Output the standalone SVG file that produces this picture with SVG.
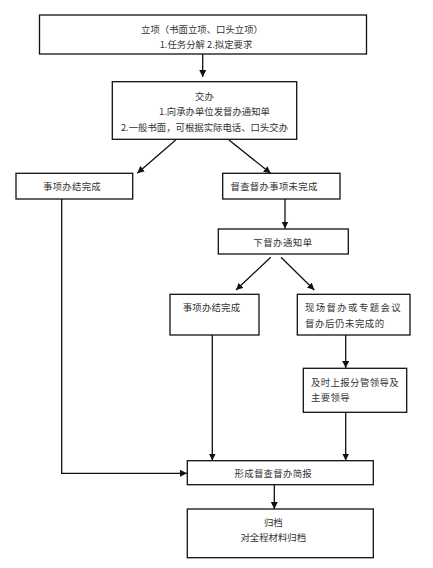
<svg xmlns="http://www.w3.org/2000/svg" width="433" height="568" viewBox="0 0 433 568">
<style>
.box{fill:#fff;stroke:#111;stroke-width:1.3}
.t{font-family:"Noto Sans CJK SC","Noto Sans",sans-serif;font-size:9.4px;fill:#333;text-anchor:middle;dominant-baseline:central}
.s{text-anchor:start}
.c{fill:none;stroke:#111;stroke-width:1.3}
</style>
<defs>
<marker id="ah" markerUnits="userSpaceOnUse" markerWidth="8" markerHeight="8" refX="7" refY="3.5" orient="auto">
<path d="M0,0 L7,3.5 L0,7 Z" fill="#111"/>
</marker>
</defs>
<rect width="433" height="568" fill="#fff"/>
<g id="connectors">
<line class="c" x1="202.7" y1="54" x2="202.7" y2="77" marker-end="url(#ah)"/>
<line class="c" x1="175.7" y1="140" x2="137.3" y2="173.3" marker-end="url(#ah)"/>
<line class="c" x1="229" y1="140" x2="270.7" y2="173.3" marker-end="url(#ah)"/>
<line class="c" x1="285" y1="199" x2="285" y2="228.5" marker-end="url(#ah)"/>
<line class="c" x1="270.7" y1="257.3" x2="236" y2="290" marker-end="url(#ah)"/>
<line class="c" x1="281" y1="257.3" x2="314.3" y2="290" marker-end="url(#ah)"/>
<polyline class="c" points="61.7,199 61.7,473.3 187,473.3" marker-end="url(#ah)"/>
<line class="c" x1="212.3" y1="335" x2="212.3" y2="460.5" marker-end="url(#ah)"/>
<line class="c" x1="345.7" y1="335" x2="345.7" y2="368" marker-end="url(#ah)"/>
<line class="c" x1="345.7" y1="412.3" x2="345.7" y2="460.5" marker-end="url(#ah)"/>
<line class="c" x1="274.3" y1="484.7" x2="274.3" y2="509" marker-end="url(#ah)"/>
</g>
<g id="n1">
<rect class="box" x="39.5" y="15" width="327" height="39"/>
<text class="t" x="202" y="28.5">立项（书面立项、口头立项）</text>
<text class="t" x="206" y="44">1.任务分解  2.拟定要求</text>
</g>
<g id="n2">
<rect class="box" x="112.3" y="81.7" width="184.4" height="57.6"/>
<text class="t" x="204.5" y="95.5">交办</text>
<text class="t" x="214.5" y="110.5">1.向承办单位发督办通知单</text>
<text class="t" x="204.5" y="127">2.一般书面，可根据实际电话、口头交办</text>
</g>
<g id="n3">
<rect class="box" x="16" y="173.3" width="116.7" height="25.7"/>
<text class="t" x="72" y="186" letter-spacing="0.3">事项办结完成</text>
</g>
<g id="n4">
<rect class="box" x="222.7" y="173.3" width="117.3" height="25.7"/>
<text class="t s" x="230.5" y="186" letter-spacing="0.3">督查督办事项未完成</text>
</g>
<g id="n5">
<rect class="box" x="218.3" y="229" width="130" height="25"/>
<text class="t" x="283" y="241.5" letter-spacing="0.5">下督办通知单</text>
</g>
<g id="n6">
<rect class="box" x="170" y="294.3" width="89" height="40.7"/>
<text class="t" x="211.5" y="306.7" letter-spacing="0.2">事项办结完成</text>
</g>
<g id="n7">
<rect class="box" x="297.3" y="294.3" width="112.7" height="40.7"/>
<text class="t s" x="305" y="306.7" letter-spacing="1.4">现场督办或专题会议</text>
<text class="t s" x="305" y="323.3" letter-spacing="0.6">督办后仍未完成的</text>
</g>
<g id="n8">
<rect class="box" x="303.3" y="368.3" width="103.4" height="44"/>
<text class="t s" x="311" y="381.7" letter-spacing="0.4">及时上报分管领导及</text>
<text class="t s" x="311" y="396.7" letter-spacing="0.4">主要领导</text>
</g>
<g id="n9">
<rect class="box" x="187.3" y="460.7" width="186" height="24"/>
<text class="t" x="273.3" y="473.3" letter-spacing="0.3">形成督查督办简报</text>
</g>
<g id="n10">
<rect class="box" x="187.3" y="509" width="186" height="48.7"/>
<text class="t" x="273.3" y="521.7">归档</text>
<text class="t" x="273.3" y="537.3">对全程材料归档</text>
</g>
</svg>
